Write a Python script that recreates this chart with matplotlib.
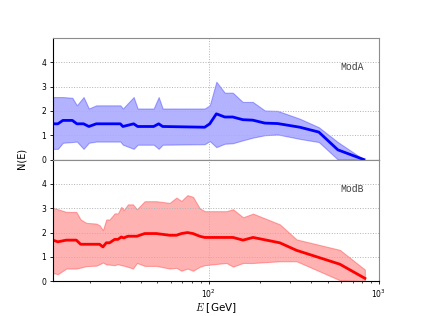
import numpy as np
import matplotlib
matplotlib.use("Agg")
import matplotlib.pyplot as plt

plt.rcParams['mathtext.fontset'] = 'cm'

# ModA: energy grid [GeV], lower edge, central value, upper edge
eA = [12.14, 12.99, 13.90, 15.79, 16.80, 18.39, 19.76, 21.85, 30.24, 31.32,
      36.22, 38.23, 47.48, 50.81, 53.63, 94.7, 101.4, 110.9, 124.2, 138.4,
      158.5, 181.5, 213.5, 254.6, 343.1, 443.6, 573.9, 816.5]
loA = [0.44, 0.44, 0.69, 0.72, 0.74, 0.44, 0.69, 0.74, 0.74, 0.61,
       0.44, 0.61, 0.61, 0.44, 0.61, 0.63, 0.76, 0.51, 0.65, 0.67,
       0.79, 0.90, 1.00, 1.03, 0.85, 0.72, 0.00, 0.00]
midA = [1.47, 1.47, 1.61, 1.61, 1.47, 1.47, 1.36, 1.47, 1.47, 1.36,
        1.47, 1.36, 1.36, 1.47, 1.36, 1.33, 1.47, 1.88, 1.75, 1.75,
        1.64, 1.62, 1.50, 1.48, 1.33, 1.13, 0.40, 0.00]
hiA = [2.57, 2.57, 2.57, 2.54, 2.23, 2.57, 2.10, 2.23, 2.23, 2.10,
       2.57, 2.10, 2.10, 2.57, 2.10, 2.10, 2.23, 3.20, 2.75, 2.75,
       2.37, 2.37, 2.02, 2.00, 1.68, 1.33, 0.72, 0.00]

# ModB
eB = [12.14, 12.99, 14.55, 16.67, 17.67, 19.08, 21.85, 22.85, 23.89, 25.01,
      26.16, 28.00, 29.28, 30.66, 31.62, 33.52, 35.87, 37.86, 42.03, 49.25,
      58.97, 64.57, 69.09, 74.93, 80.85, 88.52, 94.73, 127.1, 138.9, 159.1,
      182.2, 261.6, 328.1, 589.8, 827.5]
loB = [0.34, 0.29, 0.52, 0.52, 0.56, 0.62, 0.64, 0.70, 0.77, 0.69,
       0.68, 0.66, 0.70, 0.66, 0.64, 0.59, 0.52, 0.75, 0.63, 0.63,
       0.52, 0.55, 0.43, 0.52, 0.43, 0.59, 0.66, 0.75, 0.60, 0.75,
       0.75, 0.82, 0.82, 0.04, 0.00]
midB = [1.69, 1.62, 1.69, 1.69, 1.52, 1.52, 1.52, 1.52, 1.41, 1.58,
        1.58, 1.72, 1.72, 1.82, 1.78, 1.85, 1.85, 1.85, 1.96, 1.96,
        1.89, 1.89, 1.96, 2.00, 1.96, 1.85, 1.80, 1.80, 1.80, 1.69,
        1.80, 1.58, 1.27, 0.70, 0.12]
hiB = [3.02, 2.96, 2.85, 2.85, 2.54, 2.40, 2.37, 2.30, 2.10, 2.54,
       2.54, 2.79, 2.79, 3.06, 2.92, 3.16, 3.16, 2.96, 3.29, 3.29,
       3.22, 3.44, 3.30, 3.54, 3.47, 3.00, 2.88, 2.88, 2.96, 2.63,
       2.78, 2.34, 1.72, 1.29, 0.48]

panels = [(eA, loA, midA, hiA, 'blue', 'ModA'),
          (eB, loB, midB, hiB, 'red', 'ModB')]

fig, axes = plt.subplots(2, 1, sharex=True, figsize=(4.21, 3.16), dpi=100)
fig.subplots_adjust(left=0.125, right=0.9, bottom=0.11, top=0.88, hspace=0)

for ax, (e, lo, mid, hi, col, name) in zip(axes, panels):
    ax.fill_between(e, lo, hi, color=col, alpha=0.3, lw=0.8)
    ax.plot(e, mid, color=col, lw=2)
    ax.set_xscale('log')
    ax.set_xlim(12.1, 1000)
    ax.set_ylim(0, 5)
    ax.set_yticks([0, 1, 2, 3, 4])
    ax.grid(True, which='major', ls=':', color='0.7', lw=0.7)
    ax.text(0.955, 0.76, name, transform=ax.transAxes, ha='right', va='center',
            family='Liberation Mono', fontsize=7, color='0.25')
    ax.tick_params(labelsize=5.5, length=2.5, width=0.6, pad=2)
    ax.tick_params(which='minor', length=1.5, width=0.5)
    for s in ['top', 'right']:
        ax.spines[s].set_color('0.55')
    ax.spines['left'].set_linewidth(0.8)
    ax.spines['bottom'].set_linewidth(0.8)

axes[0].tick_params(axis='x', which='both', bottom=False)
axes[1].set_xlabel('$E$ [GeV]', fontsize=7.5, labelpad=1)
fig.text(0.05, 0.5, 'N(E)', rotation=90, ha='center', va='center', fontsize=7)

fig.savefig('out.png', dpi=100)
